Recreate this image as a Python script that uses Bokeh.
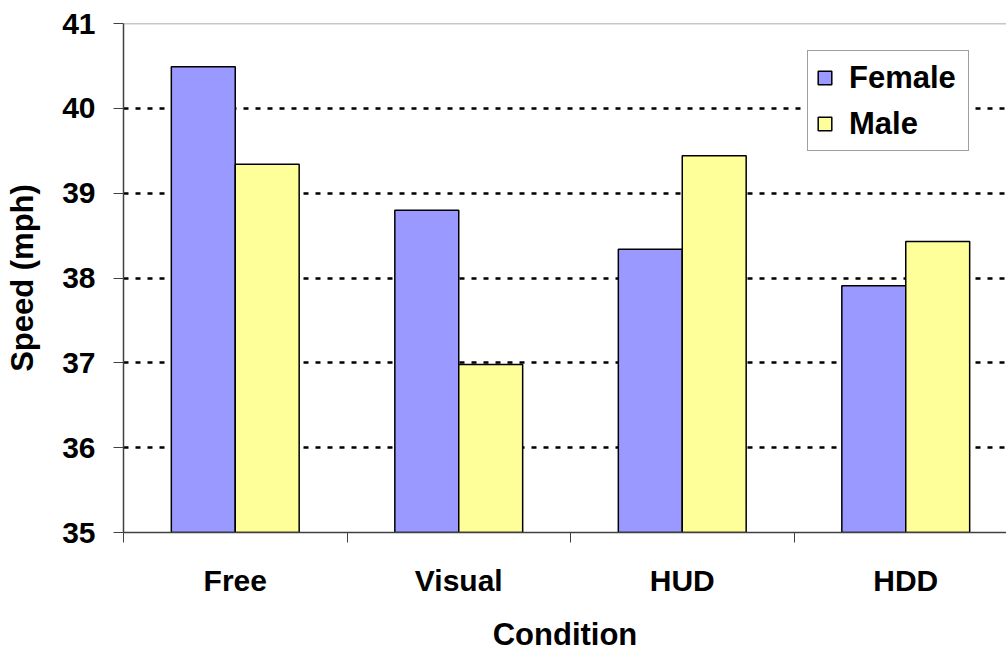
from bokeh.plotting import figure
from bokeh.models import Range1d, FixedTicker, Span, Legend, LegendItem, ColumnDataSource
from bokeh.embed import file_html
from bokeh.resources import INLINE

categories = ["Free", "Visual", "HUD", "HDD"]
female = [40.49, 38.80, 38.34, 37.91]
male = [39.34, 36.98, 39.44, 38.43]
y_ticks = [35, 36, 37, 38, 39, 40, 41]

FONT = "Liberation Sans"
W, H = 1006, 654
LEFT = 123

centers = [i + 0.5 for i in range(len(categories))]
bw = 0.286
src = ColumnDataSource(dict(
    xf=[c - bw / 2 for c in centers],
    xm=[c + bw / 2 for c in centers],
    female=female,
    male=male,
))

p = figure(width=W, height=H, output_backend="svg", toolbar_location=None,
           x_range=Range1d(0, (W - LEFT) / 223.5), y_range=Range1d(35, 41),
           min_border_left=LEFT, min_border_right=0, min_border_top=23,
           min_border_bottom=110)
p.outline_line_color = None
p.background_fill_color = "white"
p.border_fill_color = "white"

p.add_layout(Span(location=41, dimension="width", line_color="#909090", line_width=1.5))

rf = p.vbar(x="xf", top="female", bottom=35, width=bw, source=src,
            fill_color="#9999FF", line_color="black", line_width=1.5)
rm = p.vbar(x="xm", top="male", bottom=35, width=bw, source=src,
            fill_color="#FFFF99", line_color="black", line_width=1.5)

# grid
p.xgrid.grid_line_color = None
p.ygrid.grid_line_color = "black"
p.ygrid.grid_line_width = 2.5
p.ygrid.grid_line_dash = "5 7"
p.ygrid.ticker = FixedTicker(ticks=y_ticks)

# axes
ax = p.xaxis[0]
ax.ticker = FixedTicker(ticks=centers, minor_ticks=[0, 1, 2, 3, 4])
ax.major_label_overrides = {c: lab for c, lab in zip(centers, categories)}
ax.major_tick_line_color = None
ax.minor_tick_line_color = "#404040"
ax.minor_tick_out = 10
ax.minor_tick_in = 0
ax.axis_line_color = "#404040"
ax.axis_line_width = 1.5
ax.major_label_text_font = FONT
ax.major_label_text_font_style = "bold"
ax.major_label_text_font_size = "30px"
ax.major_label_text_color = "black"
ax.major_label_standoff = 21
ax.axis_label = "Condition"
ax.axis_label_text_font = FONT
ax.axis_label_text_font_style = "bold"
ax.axis_label_text_font_size = "31px"
ax.axis_label_text_color = "black"
ax.axis_label_standoff = 17

ay = p.yaxis[0]
ay.ticker = FixedTicker(ticks=y_ticks)
ay.major_tick_line_color = "#404040"
ay.major_tick_out = 10
ay.major_tick_in = 0
ay.minor_tick_line_color = None
ay.axis_line_color = "#404040"
ay.axis_line_width = 1.5
ay.major_label_text_font = FONT
ay.major_label_text_font_style = "bold"
ay.major_label_text_font_size = "30px"
ay.major_label_text_color = "black"
ay.major_label_standoff = 18
ay.axis_label = "Speed (mph)"
ay.axis_label_text_font = FONT
ay.axis_label_text_font_style = "bold"
ay.axis_label_text_font_size = "31px"
ay.axis_label_text_color = "black"
ay.axis_label_standoff = 19

legend = Legend(items=[LegendItem(label="Female", renderers=[rf]),
                       LegendItem(label="Male", renderers=[rm])],
                location=(684, 381))
legend.label_text_font = FONT
legend.label_text_font_style = "bold"
legend.label_text_font_size = "31px"
legend.label_text_color = "black"
legend.glyph_width = 17
legend.glyph_height = 17
legend.label_standoff = 16
legend.label_height = 37
legend.label_width = 111
legend.spacing = 9
legend.padding = 8
legend.margin = 0
legend.border_line_color = "#404040"
legend.border_line_width = 1
legend.background_fill_color = "white"
legend.background_fill_alpha = 1
p.add_layout(legend)

open("out.html", "w").write(file_html(p, INLINE))
